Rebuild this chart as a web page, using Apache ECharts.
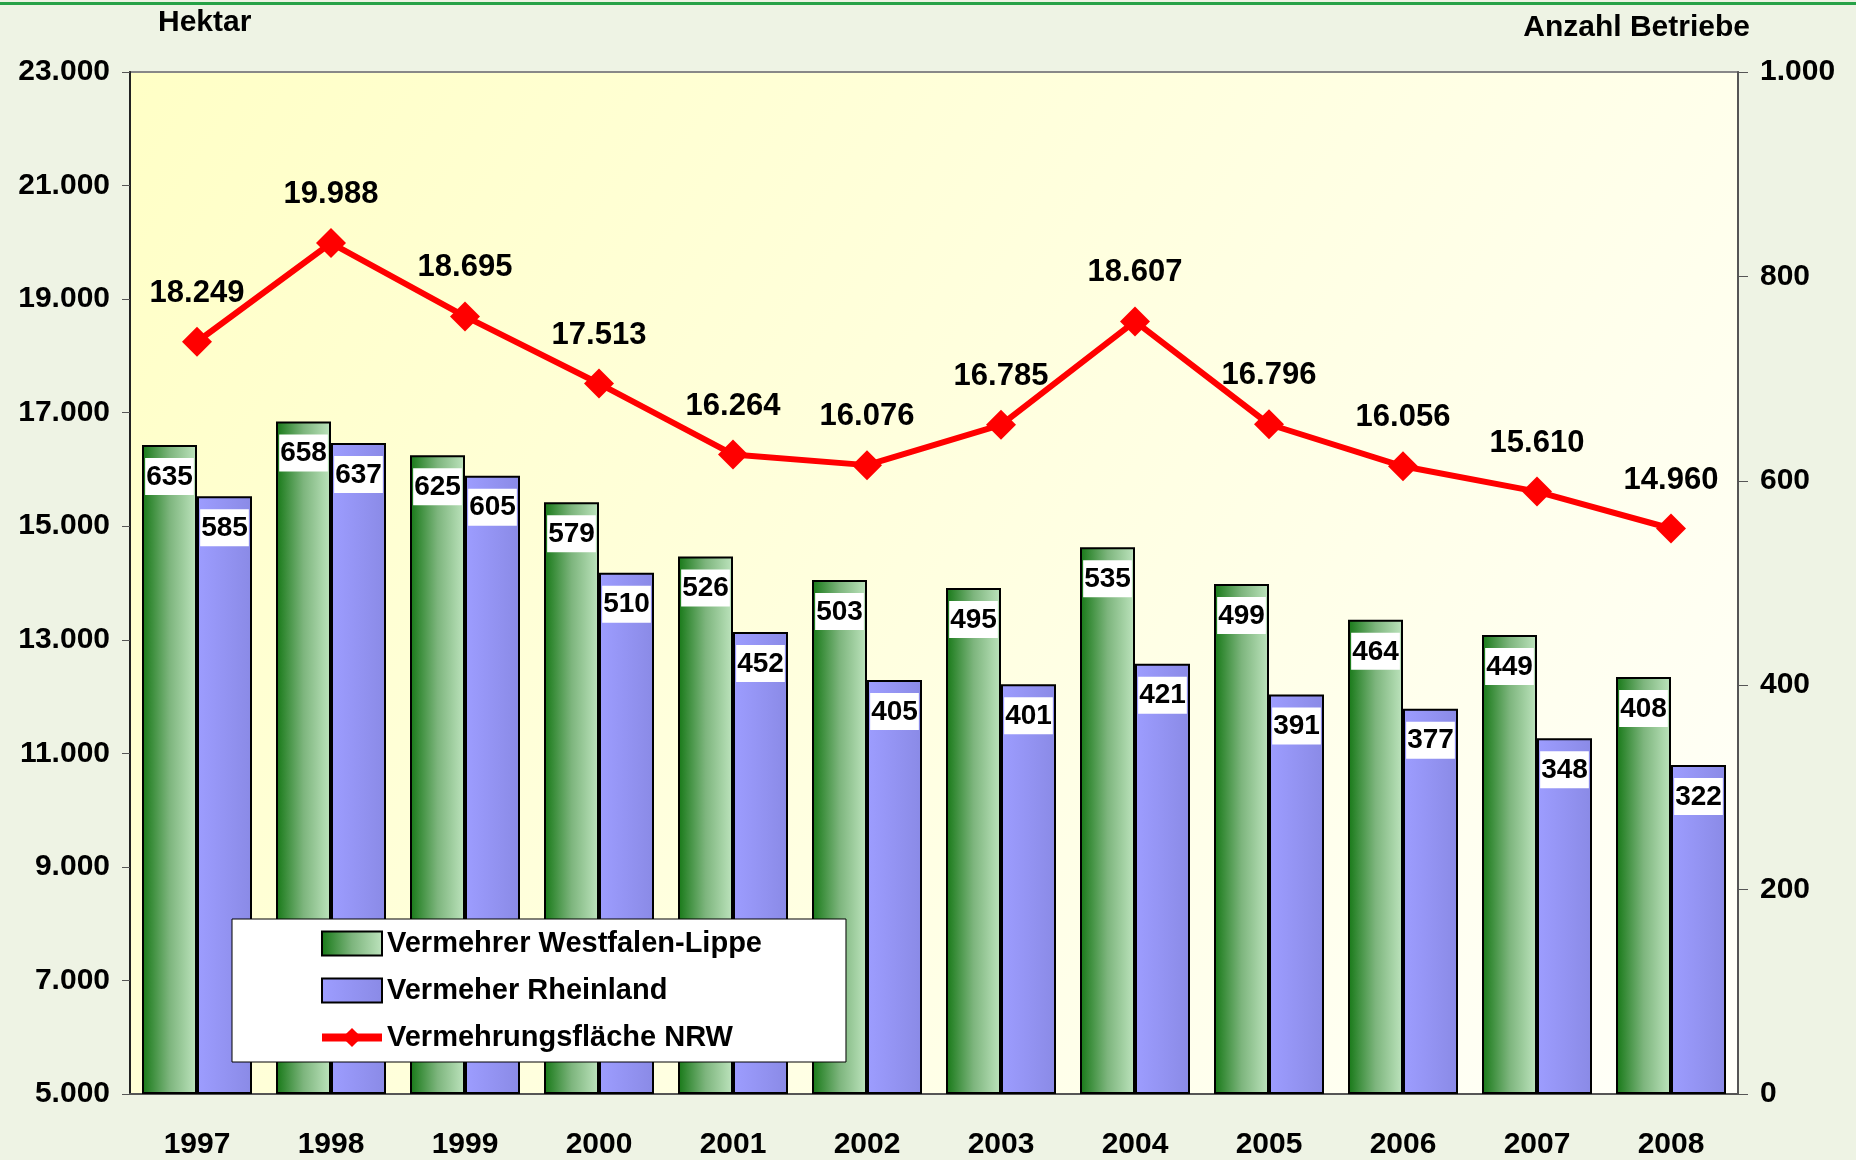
<!doctype html>
<html>
<head>
	<meta charset="UTF-8">
	<title>Vermehrungsfläche NRW</title>
	<style>
		html, body {
			margin: 0;
			padding: 0;
			background: #eef3e4;
		}
		#chart {
			width: 1856px;
			height: 1160px;
		}
	</style>
</head>
<body>
<div id="chart"></div>
<script src="https://cdn.jsdelivr.net/npm/echarts@6/dist/echarts.min.js"></script>
<script>
	var years = ['1997', '1998', '1999', '2000', '2001', '2002', '2003', '2004', '2005', '2006', '2007', '2008'];
	var westfalen = [635, 658, 625, 579, 526, 503, 495, 535, 499, 464, 449, 408];
	var rheinland = [585, 637, 605, 510, 452, 405, 401, 421, 391, 377, 348, 322];
	var flaeche = [18249, 19988, 18695, 17513, 16264, 16076, 16785, 18607, 16796, 16056, 15610, 14960];

	var font = 'Liberation Sans, Arial, sans-serif';

	// Tausenderpunkt
	function fmt(v) {
		return String(v).replace(/\B(?=(\d{3})+(?!\d))/g, '.');
	}

	var barLabel = {
		show: true,
		position: 'insideTop',
		distance: 13,
		color: '#000',
		fontFamily: font,
		fontSize: 28,
		fontWeight: 'bold',
		backgroundColor: '#fff',
		padding: [5, 1, 4, 1]
	};

	var option = {
		backgroundColor: '#eef3e4',
		animation: false,
		graphic: [{
			type: 'rect',
			left: 0,
			top: 2,
			shape: {width: 1856, height: 3},
			style: {fill: '#27a247'}
		}],
		title: [{
			text: 'Hektar',
			left: 158,
			top: 8,
			padding: 0,
			textStyle: {fontFamily: font, fontSize: 30, fontWeight: 'bold', color: '#000'}
		}, {
			text: 'Anzahl Betriebe',
			right: 106,
			top: 13,
			padding: 0,
			textStyle: {fontFamily: font, fontSize: 30, fontWeight: 'bold', color: '#000'}
		}],
		legend: {
			data: [
				{name: 'Vermehrer Westfalen-Lippe', icon: 'rect'},
				{name: 'Vermeher Rheinland', icon: 'rect'},
				{name: 'Vermehrungsfläche NRW', lineStyle: {width: 8}}
			],
			orient: 'vertical',
			left: 232,
			top: 919,
			backgroundColor: '#fff',
			borderColor: '#000',
			borderWidth: 1,
			borderRadius: 0,
			padding: [10, 84, 10, 86],
			itemWidth: 60,
			itemHeight: 24,
			itemGap: 18,
			textStyle: {fontFamily: font, fontSize: 29, fontWeight: 'bold', color: '#000'}
		},
		grid: {
			left: 130,
			right: 118,
			top: 72,
			bottom: 66,
			outerBoundsMode: 'none',
			show: true,
			borderColor: '#888',
			borderWidth: 2,
			backgroundColor: new echarts.graphic.LinearGradient(0, 0, 1, 1, [
				{offset: 0, color: '#ffffc6'},
				{offset: 1, color: '#fffffa'}
			])
		},
		xAxis: {
			type: 'category',
			data: years,
			axisLine: {lineStyle: {color: '#555', width: 2}},
			axisTick: {length: 10, lineStyle: {color: '#555', width: 1}},
			axisLabel: {margin: 36, color: '#000', fontFamily: font, fontSize: 30, fontWeight: 'bold'}
		},
		yAxis: [{
			type: 'value',
			min: 5000,
			max: 23000,
			interval: 2000,
			splitLine: {show: false},
			axisLine: {show: true, lineStyle: {color: '#222', width: 2}},
			axisTick: {show: true, length: 8, lineStyle: {color: '#555'}},
			axisLabel: {margin: 20, color: '#000', fontFamily: font, fontSize: 30, fontWeight: 'bold', formatter: fmt}
		}, {
			type: 'value',
			min: 0,
			max: 1000,
			interval: 200,
			position: 'right',
			splitLine: {show: false},
			axisLine: {show: true, lineStyle: {color: '#555', width: 2}},
			axisTick: {show: true, length: 10, lineStyle: {color: '#555'}},
			axisLabel: {margin: 22, color: '#000', fontFamily: font, fontSize: 30, fontWeight: 'bold', formatter: fmt}
		}],
		series: [{
			name: 'Vermehrer Westfalen-Lippe',
			type: 'bar',
			yAxisIndex: 1,
			barWidth: 55,
			barGap: '0%',
			data: westfalen,
			itemStyle: {
				color: new echarts.graphic.LinearGradient(0, 0, 1, 0, [
					{offset: 0, color: '#167816'},
					{offset: 0.5, color: '#7db57d'},
					{offset: 1, color: '#bee4be'}
				]),
				borderColor: '#000',
				borderWidth: 2
			},
			label: barLabel
		}, {
			name: 'Vermeher Rheinland',
			type: 'bar',
			yAxisIndex: 1,
			barWidth: 55,
			data: rheinland,
			itemStyle: {
				color: new echarts.graphic.LinearGradient(0, 0, 1, 0, [
					{offset: 0, color: '#9d9dff'},
					{offset: 1, color: '#8a8ae6'}
				]),
				borderColor: '#000',
				borderWidth: 2
			},
			label: barLabel
		}, {
			name: 'Vermehrungsfläche NRW',
			type: 'line',
			yAxisIndex: 0,
			data: flaeche,
			z: 5,
			color: '#ff0000',
			symbol: 'diamond',
			symbolSize: 30,
			lineStyle: {color: '#ff0000', width: 6},
			itemStyle: {color: '#ff0000'},
			label: {
				show: true,
				position: 'top',
				distance: 18,
				color: '#000',
				fontFamily: font,
				fontSize: 31,
				fontWeight: 'bold',
				formatter: function (p) {
					return fmt(p.value);
				}
			}
		}]
	};

	var chart = echarts.init(document.getElementById('chart'));
	chart.setOption(option);
</script>
</body>
</html>
